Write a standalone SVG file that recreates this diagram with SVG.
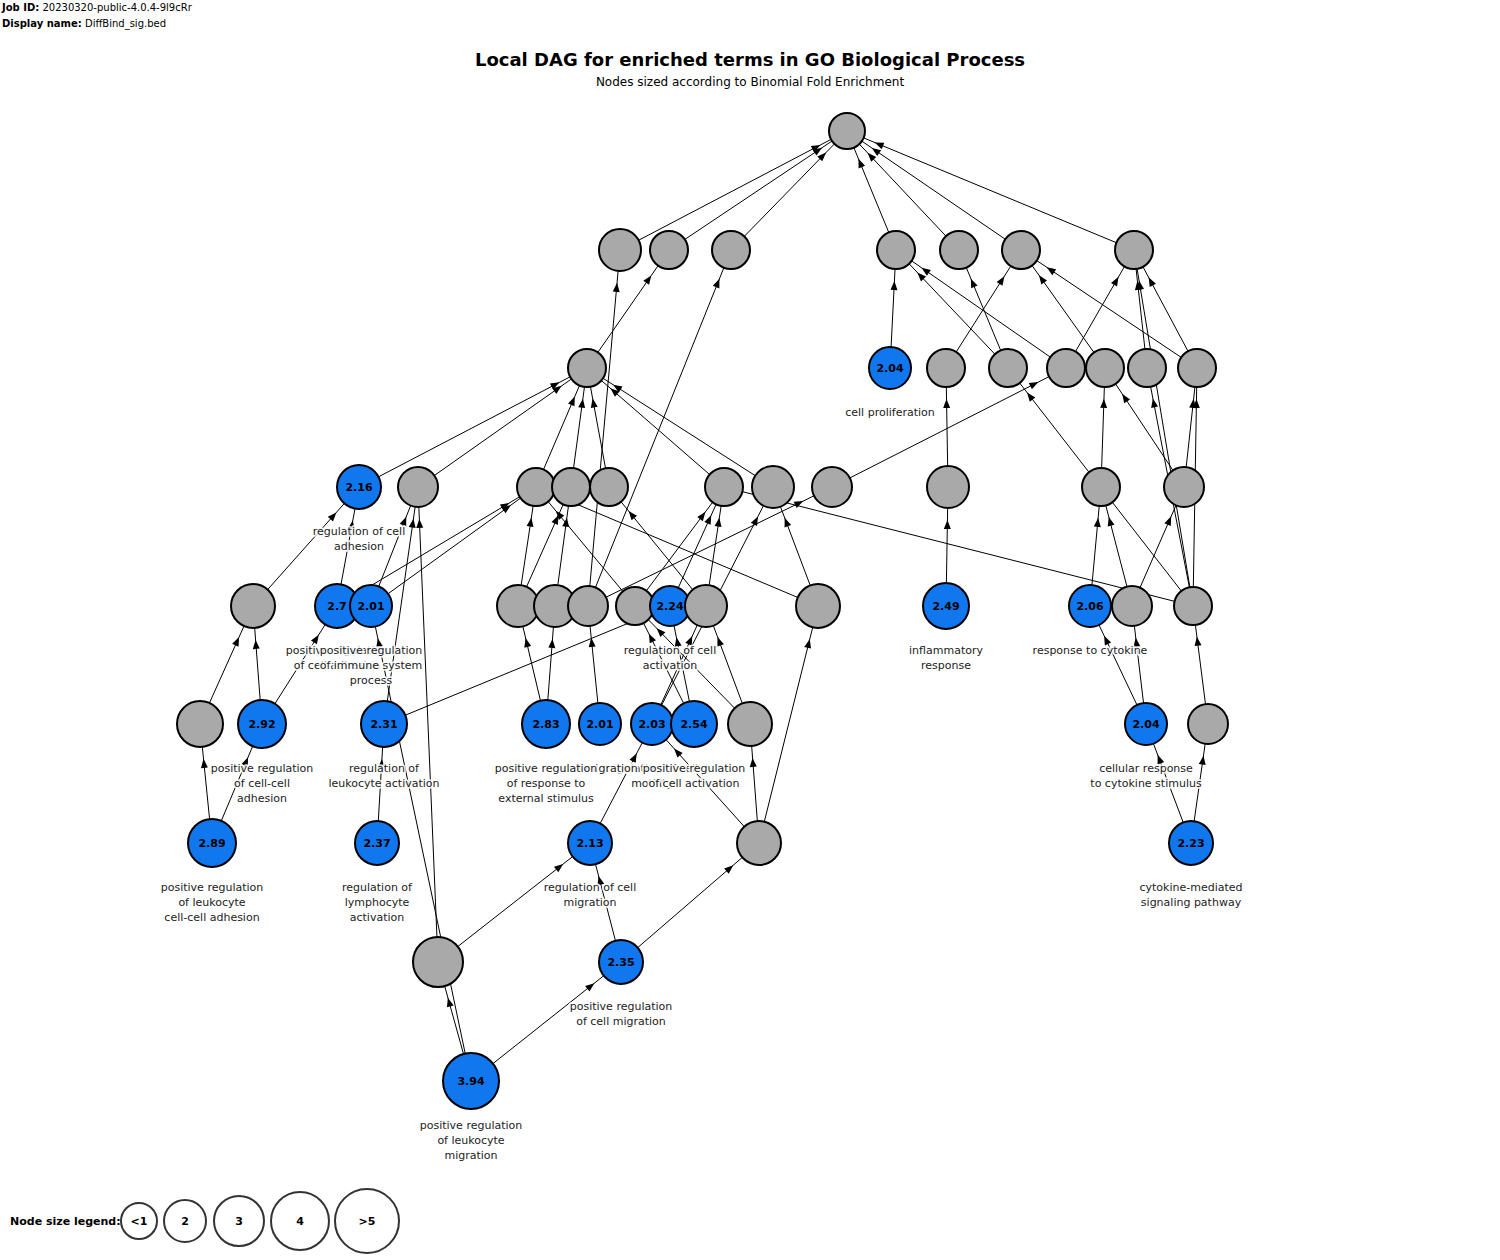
<svg xmlns="http://www.w3.org/2000/svg" width="1500" height="1260" viewBox="0 0 1500 1260">
<style>
text{font-family:"DejaVu Sans","Liberation Sans",sans-serif}
.e{stroke:#000;stroke-width:1;fill:none}
.g{fill:#a9a9a9;stroke:#000;stroke-width:2}
.b{fill:#1177ee;stroke:#000;stroke-width:2}
.v{font-size:11px;font-weight:bold;text-anchor:middle;fill:#000}
.l{font-size:11px;text-anchor:middle;fill:#222;stroke:#fff;stroke-width:3.5;stroke-opacity:.85;stroke-linejoin:round;paint-order:stroke}
.lg{fill:#fff;stroke:#333;stroke-width:2}
.hd{font-size:10px;fill:#000}
</style>
<defs>
<marker id="m18" markerUnits="userSpaceOnUse" markerWidth="10" markerHeight="7" refX="39" refY="3.5" orient="auto" style="overflow:visible"><path d="M0,0L9,3.5L0,7Z"/></marker>
<marker id="m19" markerUnits="userSpaceOnUse" markerWidth="10" markerHeight="7" refX="40" refY="3.5" orient="auto" style="overflow:visible"><path d="M0,0L9,3.5L0,7Z"/></marker>
<marker id="m20" markerUnits="userSpaceOnUse" markerWidth="10" markerHeight="7" refX="41" refY="3.5" orient="auto" style="overflow:visible"><path d="M0,0L9,3.5L0,7Z"/></marker>
<marker id="m21" markerUnits="userSpaceOnUse" markerWidth="10" markerHeight="7" refX="42" refY="3.5" orient="auto" style="overflow:visible"><path d="M0,0L9,3.5L0,7Z"/></marker>
<marker id="m22" markerUnits="userSpaceOnUse" markerWidth="10" markerHeight="7" refX="43" refY="3.5" orient="auto" style="overflow:visible"><path d="M0,0L9,3.5L0,7Z"/></marker>
<marker id="m23" markerUnits="userSpaceOnUse" markerWidth="10" markerHeight="7" refX="44" refY="3.5" orient="auto" style="overflow:visible"><path d="M0,0L9,3.5L0,7Z"/></marker>
<marker id="m24" markerUnits="userSpaceOnUse" markerWidth="10" markerHeight="7" refX="45" refY="3.5" orient="auto" style="overflow:visible"><path d="M0,0L9,3.5L0,7Z"/></marker>
<marker id="m25" markerUnits="userSpaceOnUse" markerWidth="10" markerHeight="7" refX="46" refY="3.5" orient="auto" style="overflow:visible"><path d="M0,0L9,3.5L0,7Z"/></marker>
</defs>
<rect width="1500" height="1260" fill="#fff"/>
<g id="header">
<text class="hd" x="2" y="11"><tspan font-weight="bold">Job ID:</tspan> 20230320-public-4.0.4-9l9cRr</text>
<text class="hd" x="2" y="27"><tspan font-weight="bold">Display name:</tspan> DiffBind_sig.bed</text>
<text x="750" y="66" font-size="18" font-weight="bold" text-anchor="middle">Local DAG for enriched terms in GO Biological Process</text>
<text x="750" y="86" font-size="12" text-anchor="middle">Nodes sized according to Binomial Fold Enrichment</text>
</g>
<g id="edges">
<line class="e" x1="620" y1="250" x2="847" y2="131" marker-end="url(#m18)"/>
<line class="e" x1="669" y1="250" x2="847" y2="131" marker-end="url(#m18)"/>
<line class="e" x1="731" y1="250" x2="847" y2="131" marker-end="url(#m18)"/>
<line class="e" x1="896" y1="250" x2="847" y2="131" marker-end="url(#m18)"/>
<line class="e" x1="959" y1="250" x2="847" y2="131" marker-end="url(#m18)"/>
<line class="e" x1="1021" y1="250" x2="847" y2="131" marker-end="url(#m18)"/>
<line class="e" x1="1134" y1="250" x2="847" y2="131" marker-end="url(#m18)"/>
<line class="e" x1="587" y1="368" x2="669" y2="250" marker-end="url(#m19)"/>
<line class="e" x1="588" y1="606" x2="620" y2="250" marker-end="url(#m21)"/>
<line class="e" x1="588" y1="606" x2="731" y2="250" marker-end="url(#m19)"/>
<line class="e" x1="890" y1="368" x2="896" y2="250" marker-end="url(#m19)"/>
<line class="e" x1="1008" y1="368" x2="896" y2="250" marker-end="url(#m19)"/>
<line class="e" x1="1066" y1="368" x2="896" y2="250" marker-end="url(#m19)"/>
<line class="e" x1="1008" y1="368" x2="959" y2="250" marker-end="url(#m19)"/>
<line class="e" x1="946" y1="368" x2="1021" y2="250" marker-end="url(#m19)"/>
<line class="e" x1="1105" y1="368" x2="1021" y2="250" marker-end="url(#m19)"/>
<line class="e" x1="1197" y1="368" x2="1021" y2="250" marker-end="url(#m19)"/>
<line class="e" x1="1066" y1="368" x2="1134" y2="250" marker-end="url(#m19)"/>
<line class="e" x1="1147" y1="368" x2="1134" y2="250" marker-end="url(#m19)"/>
<line class="e" x1="1193" y1="606" x2="1134" y2="250" marker-end="url(#m19)"/>
<line class="e" x1="1197" y1="368" x2="1134" y2="250" marker-end="url(#m19)"/>
<line class="e" x1="359" y1="487" x2="587" y2="368" marker-end="url(#m19)"/>
<line class="e" x1="418" y1="487" x2="587" y2="368" marker-end="url(#m19)"/>
<line class="e" x1="536" y1="487" x2="587" y2="368" marker-end="url(#m19)"/>
<line class="e" x1="571" y1="487" x2="587" y2="368" marker-end="url(#m19)"/>
<line class="e" x1="609" y1="487" x2="587" y2="368" marker-end="url(#m19)"/>
<line class="e" x1="724" y1="487" x2="587" y2="368" marker-end="url(#m19)"/>
<line class="e" x1="773" y1="487" x2="587" y2="368" marker-end="url(#m19)"/>
<line class="e" x1="948" y1="487" x2="946" y2="368" marker-end="url(#m19)"/>
<line class="e" x1="832" y1="487" x2="1066" y2="368" marker-end="url(#m19)"/>
<line class="e" x1="1101" y1="487" x2="1105" y2="368" marker-end="url(#m19)"/>
<line class="e" x1="1184" y1="487" x2="1105" y2="368" marker-end="url(#m19)"/>
<line class="e" x1="1193" y1="606" x2="1147" y2="368" marker-end="url(#m19)"/>
<line class="e" x1="1184" y1="487" x2="1197" y2="368" marker-end="url(#m19)"/>
<line class="e" x1="1193" y1="606" x2="1197" y2="368" marker-end="url(#m19)"/>
<line class="e" x1="1193" y1="606" x2="1008" y2="368" marker-end="url(#m19)"/>
<line class="e" x1="253" y1="606" x2="359" y2="487" marker-end="url(#m22)"/>
<line class="e" x1="337" y1="606" x2="359" y2="487" marker-end="url(#m22)"/>
<line class="e" x1="371" y1="606" x2="418" y2="487" marker-end="url(#m20)"/>
<line class="e" x1="384" y1="724" x2="418" y2="487" marker-end="url(#m20)"/>
<line class="e" x1="438" y1="962" x2="418" y2="487" marker-end="url(#m20)"/>
<line class="e" x1="337" y1="606" x2="536" y2="487" marker-end="url(#m19)"/>
<line class="e" x1="371" y1="606" x2="536" y2="487" marker-end="url(#m19)"/>
<line class="e" x1="518" y1="606" x2="536" y2="487" marker-end="url(#m19)"/>
<line class="e" x1="635" y1="606" x2="536" y2="487" marker-end="url(#m19)"/>
<line class="e" x1="818" y1="606" x2="536" y2="487" marker-end="url(#m19)"/>
<line class="e" x1="518" y1="606" x2="571" y2="487" marker-end="url(#m19)"/>
<line class="e" x1="555" y1="606" x2="571" y2="487" marker-end="url(#m19)"/>
<line class="e" x1="706" y1="606" x2="609" y2="487" marker-end="url(#m19)"/>
<line class="e" x1="635" y1="606" x2="724" y2="487" marker-end="url(#m19)"/>
<line class="e" x1="670" y1="606" x2="724" y2="487" marker-end="url(#m19)"/>
<line class="e" x1="706" y1="606" x2="724" y2="487" marker-end="url(#m19)"/>
<line class="e" x1="1193" y1="606" x2="724" y2="487" marker-end="url(#m19)"/>
<line class="e" x1="818" y1="606" x2="773" y2="487" marker-end="url(#m21)"/>
<line class="e" x1="652" y1="724" x2="773" y2="487" marker-end="url(#m21)"/>
<line class="e" x1="588" y1="606" x2="832" y2="487" marker-end="url(#m20)"/>
<line class="e" x1="946" y1="606" x2="948" y2="487" marker-end="url(#m21)"/>
<line class="e" x1="1090" y1="606" x2="1101" y2="487" marker-end="url(#m19)"/>
<line class="e" x1="1132" y1="606" x2="1101" y2="487" marker-end="url(#m19)"/>
<line class="e" x1="1132" y1="606" x2="1184" y2="487" marker-end="url(#m20)"/>
<line class="e" x1="200" y1="724" x2="253" y2="606" marker-end="url(#m22)"/>
<line class="e" x1="262" y1="724" x2="253" y2="606" marker-end="url(#m22)"/>
<line class="e" x1="262" y1="724" x2="337" y2="606" marker-end="url(#m22)"/>
<line class="e" x1="471" y1="1081" x2="371" y2="606" marker-end="url(#m21)"/>
<line class="e" x1="546" y1="724" x2="518" y2="606" marker-end="url(#m21)"/>
<line class="e" x1="546" y1="724" x2="555" y2="606" marker-end="url(#m21)"/>
<line class="e" x1="600" y1="724" x2="588" y2="606" marker-end="url(#m20)"/>
<line class="e" x1="694" y1="724" x2="635" y2="606" marker-end="url(#m19)"/>
<line class="e" x1="694" y1="724" x2="670" y2="606" marker-end="url(#m20)"/>
<line class="e" x1="750" y1="724" x2="635" y2="606" marker-end="url(#m19)"/>
<line class="e" x1="652" y1="724" x2="706" y2="606" marker-end="url(#m21)"/>
<line class="e" x1="750" y1="724" x2="706" y2="606" marker-end="url(#m21)"/>
<line class="e" x1="384" y1="724" x2="670" y2="606" marker-end="url(#m20)"/>
<line class="e" x1="759" y1="843" x2="818" y2="606" marker-end="url(#m22)"/>
<line class="e" x1="1146" y1="724" x2="1090" y2="606" marker-end="url(#m21)"/>
<line class="e" x1="1146" y1="724" x2="1132" y2="606" marker-end="url(#m20)"/>
<line class="e" x1="1208" y1="724" x2="1193" y2="606" marker-end="url(#m19)"/>
<line class="e" x1="212" y1="843" x2="200" y2="724" marker-end="url(#m23)"/>
<line class="e" x1="212" y1="843" x2="262" y2="724" marker-end="url(#m24)"/>
<line class="e" x1="377" y1="843" x2="384" y2="724" marker-end="url(#m23)"/>
<line class="e" x1="590" y1="843" x2="652" y2="724" marker-end="url(#m21)"/>
<line class="e" x1="759" y1="843" x2="652" y2="724" marker-end="url(#m21)"/>
<line class="e" x1="759" y1="843" x2="750" y2="724" marker-end="url(#m22)"/>
<line class="e" x1="1191" y1="843" x2="1146" y2="724" marker-end="url(#m21)"/>
<line class="e" x1="1191" y1="843" x2="1208" y2="724" marker-end="url(#m20)"/>
<line class="e" x1="438" y1="962" x2="590" y2="843" marker-end="url(#m22)"/>
<line class="e" x1="621" y1="962" x2="590" y2="843" marker-end="url(#m22)"/>
<line class="e" x1="621" y1="962" x2="759" y2="843" marker-end="url(#m22)"/>
<line class="e" x1="471" y1="1081" x2="438" y2="962" marker-end="url(#m25)"/>
<line class="e" x1="471" y1="1081" x2="621" y2="962" marker-end="url(#m22)"/>
</g>
<g id="nodes">
<g id="nT"><circle class="g" cx="847" cy="131" r="18"/></g>
<g id="nA"><circle class="g" cx="620" cy="250" r="21"/></g>
<g id="nB"><circle class="g" cx="669" cy="250" r="19"/></g>
<g id="nC"><circle class="g" cx="731" cy="250" r="19"/></g>
<g id="nD"><circle class="g" cx="896" cy="250" r="19"/></g>
<g id="nE"><circle class="g" cx="959" cy="250" r="19"/></g>
<g id="nF"><circle class="g" cx="1021" cy="250" r="19"/></g>
<g id="nG"><circle class="g" cx="1134" cy="250" r="19"/></g>
<g id="nH"><circle class="g" cx="587" cy="368" r="19"/></g>
<g id="nI"><circle class="b" cx="890" cy="368" r="21"/><text class="v" x="890" y="372">2.04</text><text class="l" x="890" y="416">cell proliferation</text></g>
<g id="nJ"><circle class="g" cx="946" cy="368" r="19"/></g>
<g id="nK"><circle class="g" cx="1008" cy="368" r="19"/></g>
<g id="nL"><circle class="g" cx="1066" cy="368" r="19"/></g>
<g id="nM"><circle class="g" cx="1105" cy="368" r="19"/></g>
<g id="nN"><circle class="g" cx="1147" cy="368" r="19"/></g>
<g id="nO"><circle class="g" cx="1197" cy="368" r="19"/></g>
<g id="nP"><circle class="b" cx="359" cy="487" r="22"/><text class="v" x="359" y="491">2.16</text><text class="l" x="359" y="535">regulation of cell<tspan x="359" dy="15">adhesion</tspan></text></g>
<g id="nQ"><circle class="g" cx="418" cy="487" r="20"/></g>
<g id="nR"><circle class="g" cx="536" cy="487" r="19"/></g>
<g id="nS"><circle class="g" cx="571" cy="487" r="19"/></g>
<g id="nU"><circle class="g" cx="609" cy="487" r="19"/></g>
<g id="nV"><circle class="g" cx="724" cy="487" r="19"/></g>
<g id="nW"><circle class="g" cx="773" cy="487" r="21"/></g>
<g id="nX"><circle class="g" cx="832" cy="487" r="20"/></g>
<g id="nY"><circle class="g" cx="948" cy="487" r="21"/></g>
<g id="nZ"><circle class="g" cx="1101" cy="487" r="19"/></g>
<g id="nAA"><circle class="g" cx="1184" cy="487" r="20"/></g>
<g id="nB1"><circle class="g" cx="253" cy="606" r="22"/></g>
<g id="nB2"><circle class="b" cx="337" cy="606" r="22"/><text class="v" x="337" y="610">2.7</text><text class="l" x="337" y="654">positive regulation<tspan x="337" dy="15">of cell adhesion</tspan></text></g>
<g id="nB3"><circle class="b" cx="371" cy="606" r="21"/><text class="v" x="371" y="610">2.01</text><text class="l" x="371" y="654">positive regulation<tspan x="371" dy="15">of immune system</tspan><tspan x="371" dy="15">process</tspan></text></g>
<g id="nB4"><circle class="g" cx="518" cy="606" r="21"/></g>
<g id="nB5"><circle class="g" cx="555" cy="606" r="21"/></g>
<g id="nB6"><circle class="g" cx="588" cy="606" r="20"/></g>
<g id="nB7"><circle class="g" cx="635" cy="606" r="19"/></g>
<g id="nB8"><circle class="b" cx="670" cy="606" r="20"/><text class="v" x="670" y="610">2.24</text><text class="l" x="670" y="654">regulation of cell<tspan x="670" dy="15">activation</tspan></text></g>
<g id="nB9"><circle class="g" cx="706" cy="606" r="21"/></g>
<g id="nB10"><circle class="g" cx="818" cy="606" r="22"/></g>
<g id="nB11"><circle class="b" cx="946" cy="606" r="23"/><text class="v" x="946" y="610">2.49</text><text class="l" x="946" y="654">inflammatory<tspan x="946" dy="15">response</tspan></text></g>
<g id="nB12"><circle class="b" cx="1090" cy="606" r="21"/><text class="v" x="1090" y="610">2.06</text><text class="l" x="1090" y="654">response to cytokine</text></g>
<g id="nB13"><circle class="g" cx="1132" cy="606" r="20"/></g>
<g id="nB14"><circle class="g" cx="1193" cy="606" r="19"/></g>
<g id="nC1"><circle class="g" cx="200" cy="724" r="23"/></g>
<g id="nC2"><circle class="b" cx="262" cy="724" r="24"/><text class="v" x="262" y="728">2.92</text><text class="l" x="262" y="772">positive regulation<tspan x="262" dy="15">of cell-cell</tspan><tspan x="262" dy="15">adhesion</tspan></text></g>
<g id="nC3"><circle class="b" cx="384" cy="724" r="23"/><text class="v" x="384" y="728">2.31</text><text class="l" x="384" y="772">regulation of<tspan x="384" dy="15">leukocyte activation</tspan></text></g>
<g id="nC6"><circle class="b" cx="652" cy="724" r="21"/><text class="v" x="652" y="728">2.03</text><text class="l" x="652" y="772">regulation of cell<tspan x="652" dy="15">motility</tspan></text></g>
<g id="nC5"><circle class="b" cx="600" cy="724" r="21"/><text class="v" x="600" y="728">2.01</text><text class="l" x="600" y="772">cell migration</text></g>
<g id="nC4"><circle class="b" cx="546" cy="724" r="24"/><text class="v" x="546" y="728">2.83</text><text class="l" x="546" y="772">positive regulation<tspan x="546" dy="15">of response to</tspan><tspan x="546" dy="15">external stimulus</tspan></text></g>
<g id="nC7"><circle class="b" cx="694" cy="724" r="23"/><text class="v" x="694" y="728">2.54</text><text class="l" x="694" y="772">positive regulation<tspan x="694" dy="15">of cell activation</tspan></text></g>
<g id="nC8"><circle class="g" cx="750" cy="724" r="22"/></g>
<g id="nC9"><circle class="b" cx="1146" cy="724" r="21"/><text class="v" x="1146" y="728">2.04</text><text class="l" x="1146" y="772">cellular response<tspan x="1146" dy="15">to cytokine stimulus</tspan></text></g>
<g id="nC10"><circle class="g" cx="1208" cy="724" r="20"/></g>
<g id="nD1"><circle class="b" cx="212" cy="843" r="24"/><text class="v" x="212" y="847">2.89</text><text class="l" x="212" y="891">positive regulation<tspan x="212" dy="15">of leukocyte</tspan><tspan x="212" dy="15">cell-cell adhesion</tspan></text></g>
<g id="nD2"><circle class="b" cx="377" cy="843" r="22"/><text class="v" x="377" y="847">2.37</text><text class="l" x="377" y="891">regulation of<tspan x="377" dy="15">lymphocyte</tspan><tspan x="377" dy="15">activation</tspan></text></g>
<g id="nD3"><circle class="b" cx="590" cy="843" r="22"/><text class="v" x="590" y="847">2.13</text><text class="l" x="590" y="891">regulation of cell<tspan x="590" dy="15">migration</tspan></text></g>
<g id="nD4"><circle class="g" cx="759" cy="843" r="22"/></g>
<g id="nD5"><circle class="b" cx="1191" cy="843" r="22"/><text class="v" x="1191" y="847">2.23</text><text class="l" x="1191" y="891">cytokine-mediated<tspan x="1191" dy="15">signaling pathway</tspan></text></g>
<g id="nE1"><circle class="g" cx="438" cy="962" r="25"/></g>
<g id="nE2"><circle class="b" cx="621" cy="962" r="22"/><text class="v" x="621" y="966">2.35</text><text class="l" x="621" y="1010">positive regulation<tspan x="621" dy="15">of cell migration</tspan></text></g>
<g id="nF1"><circle class="b" cx="471" cy="1081" r="28"/><text class="v" x="471" y="1085">3.94</text><text class="l" x="471" y="1129">positive regulation<tspan x="471" dy="15">of leukocyte</tspan><tspan x="471" dy="15">migration</tspan></text></g>
</g>
<g id="legend">
<text x="10" y="1225" font-size="11" font-weight="bold">Node size legend:</text>
<circle class="lg" cx="139" cy="1221" r="18"/><text class="v" x="139" y="1225">&lt;1</text>
<circle class="lg" cx="185" cy="1221" r="21"/><text class="v" x="185" y="1225">2</text>
<circle class="lg" cx="239" cy="1221" r="25"/><text class="v" x="239" y="1225">3</text>
<circle class="lg" cx="300" cy="1221" r="29"/><text class="v" x="300" y="1225">4</text>
<circle class="lg" cx="367" cy="1221" r="32"/><text class="v" x="367" y="1225">&gt;5</text>
</g>
</svg>
